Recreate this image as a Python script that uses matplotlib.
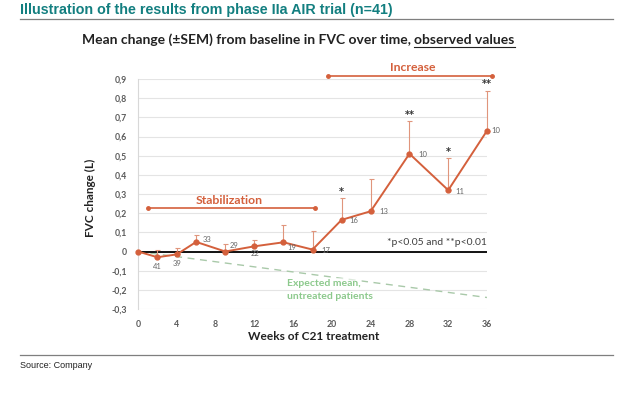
import matplotlib.pyplot as plt
from matplotlib.lines import Line2D

# Data ##################################################
weeks = [0, 2, 4, 6, 9, 12, 15, 18, 21, 24, 28, 32, 36]
fvc_mean = [0, -0.03, -0.015, 0.05, 0.0, 0.027, 0.048, 0.01, 0.165, 0.21, 0.51, 0.32, 0.63]
fvc_sem = [0, 0.04, 0.035, 0.035, 0.04, 0.035, 0.09, 0.095, 0.115, 0.167, 0.17, 0.17, 0.21]
n_patients = ['', '41', '39', '33', '29', '22', '19', '17', '16', '13', '10', '11', '10']
signif = ['', '', '', '', '', '', '', '', '*', '', '**', '*', '**']

expected_weeks = [0, 36]
expected_mean = [0, -0.24]

stab_range = [1, 18.3]
incr_range = [19.6, 36.5]

yticks = [-0.3, -0.2, -0.1, 0, 0.1, 0.2, 0.3, 0.4, 0.5, 0.6, 0.7, 0.8, 0.9]
ytick_labels = ['-0,3', '-0,2', '-0,1', '0', '0,1', '0,2', '0,3', '0,4', '0,5', '0,6', '0,7', '0,8', '0,9']
xticks = [0, 4, 8, 12, 16, 20, 24, 28, 32, 36]

# offsets (pixels) of the n labels
n_offsets = [(0, 0), (0, -9), (0, -9), (11, 2), (9, 6), (1, -7), (8, -5), (13, -1),
             (12, -1), (13, 0), (13, -1), (12, -1), (9, 0)]

orange = '#d4603c'
orange_light = '#e0957c'
green = '#8cc98c'
grey = '#5a5a5a'
cfont = 'Lato'

# Figure ##################################################
fig = plt.figure(figsize=(6.4, 3.93), dpi=100)
W, H = 640, 393
ax = fig.add_axes([138 / W, 1 - 309 / H, 349 / W, 230 / H])

ax.set_xlim(0, 36)
ax.set_ylim(-0.3, 0.9)
ax.set_yticks(yticks)
ax.set_yticklabels(ytick_labels)
ax.set_xticks(xticks)
ax.tick_params(length=0, labelsize=6.3, labelcolor=grey, pad=8)
for lab in ax.get_xticklabels() + ax.get_yticklabels():
    lab.set_fontfamily(cfont)
    lab.set_fontweight('bold')
ax.grid(axis='y', color='#e4e4e4', linewidth=0.8)
ax.set_axisbelow(True)
for s in ['top', 'right', 'bottom']:
    ax.spines[s].set_visible(False)
ax.spines['left'].set_color('#d8d8d8')

# zero line
ax.axhline(0, color='black', linewidth=1.3, zorder=2)

# expected untreated line
ax.plot(expected_weeks, expected_mean, color='#a9c9a9', linestyle=(0, (5, 4)), linewidth=1, zorder=1)
ax.text(15.4, -0.165, 'Expected mean,', color=green, fontsize=7.5, fontweight='bold',
        fontfamily=cfont, va='center', zorder=3,
        bbox=dict(facecolor='white', edgecolor='none', pad=0.5, alpha=0.6))
ax.text(15.4, -0.235, 'untreated patients', color=green, fontsize=7.5, fontweight='bold',
        fontfamily=cfont, va='center', zorder=3)

# error bars (upper only)
eb = ax.errorbar(weeks[1:], fvc_mean[1:], yerr=[[0] * (len(weeks) - 1), fvc_sem[1:]], fmt='none',
                 ecolor=orange_light, elinewidth=0.8, capsize=1.8, capthick=0.8, zorder=3)
for art in eb.lines[1] + eb.lines[2]:
    art.set_clip_on(False)
ax.plot(weeks, fvc_mean, color=orange, linewidth=1.4, marker='o', markersize=3.5, zorder=4,
        clip_on=False)

# n labels
for w, m, lab, off in zip(weeks, fvc_mean, n_patients, n_offsets):
    if lab:
        ax.annotate(lab, (w, m), xytext=off, textcoords='offset pixels', fontsize=5.5,
                    color='#666666', ha='center', va='center', fontfamily=cfont, zorder=5)

# significance stars
for w, m, e, s in zip(weeks, fvc_mean, fvc_sem, signif):
    if s:
        ax.annotate(s, (w, m + e), xytext=(0, 1), textcoords='offset pixels', fontsize=7,
                    fontweight='bold', color='#333333', ha='center', va='bottom', zorder=5)

ax.text(36, 0.045, '*p<0.05 and **p<0.01', fontsize=7.5, color='#404040', ha='right',
        va='center', fontfamily=cfont)

# stabilization / increase phases
ax.plot(stab_range, [0.226, 0.226], color=orange, linewidth=1.2, marker='o', markersize=2.5, clip_on=False)
ax.text(9.4, 0.265, 'Stabilization', color=orange, fontsize=8.8, fontweight='bold',
        fontfamily=cfont, ha='center', va='center')
ax.plot(incr_range, [0.915, 0.915], color=orange, linewidth=1.2, marker='o', markersize=2.5, clip_on=False)
ax.text(28.3, 0.962, 'Increase', color=orange, fontsize=8.8, fontweight='bold',
        fontfamily=cfont, ha='center', va='center', clip_on=False)

# axis labels
fig.text(90 / W, 1 - 198 / H, 'FVC change (L)', rotation=90, fontsize=8.5, fontweight='bold',
         fontfamily=cfont, ha='center', va='center', color='#222222')
fig.text(314 / W, 1 - 337 / H, 'Weeks of C21 treatment', fontsize=8.6, fontweight='bold',
         fontfamily=cfont, ha='center', va='center', color='#222222')

# header and subtitle
fig.text(20 / W, 1 - 10 / H, 'Illustration of the results from phase IIa AIR trial (n=41)',
         fontsize=10.3, fontweight='bold', color='#137f80', fontfamily='Liberation Sans',
         va='center', ha='left')
fig.add_artist(Line2D([20 / W, 613 / W], [1 - 19 / H, 1 - 19 / H], color='#7f7f7f', linewidth=0.9))

t1 = fig.text(82 / W, 1 - 40 / H, 'Mean change (\u00b1SEM) from baseline in FVC over time, ',
              fontsize=10, fontweight='bold', fontfamily=cfont, color='#222222', va='center', ha='left')
r = fig.canvas.get_renderer()
bb = t1.get_window_extent(r)
x2 = bb.x1 / fig.bbox.width
t2 = fig.text(x2, 1 - 40 / H, 'observed values', fontsize=10, fontweight='bold', fontfamily=cfont,
              color='#222222', va='center', ha='left')
bb2 = t2.get_window_extent(r)
fig.add_artist(Line2D([bb2.x0 / fig.bbox.width, bb2.x1 / fig.bbox.width],
                      [1 - 47 / H, 1 - 47 / H], color='#222222', linewidth=0.8))

# footer
fig.add_artist(Line2D([20 / W, 613 / W], [1 - 355 / H, 1 - 355 / H], color='#7f7f7f', linewidth=0.9))
fig.text(20 / W, 1 - 365 / H, 'Source: Company', fontsize=6.5, fontfamily='Liberation Sans',
         va='center', ha='left', color='#222222')

plt.savefig('out.png', dpi=100)
